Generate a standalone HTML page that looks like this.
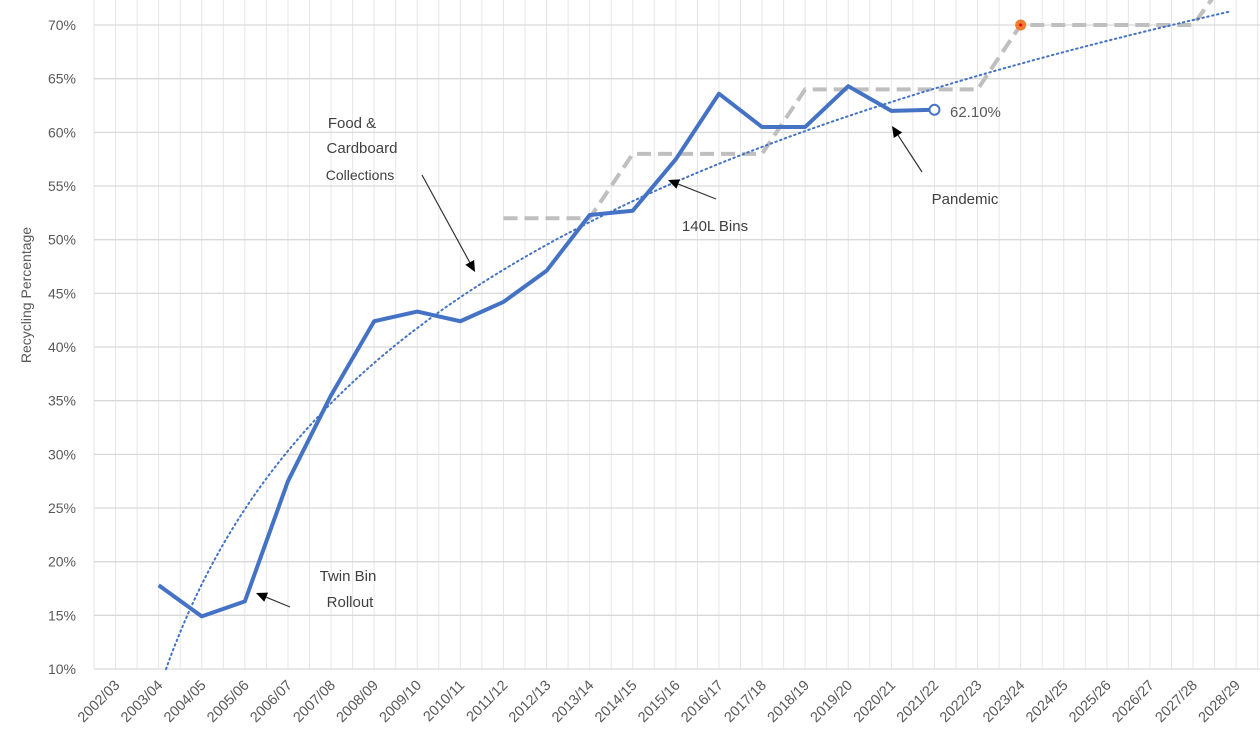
<!DOCTYPE html>
<html><head><meta charset="utf-8"><style>
html,body{margin:0;padding:0;background:#fff;}
svg{display:block;font-family:"Liberation Sans",sans-serif;}
</style></head><body>
<svg id="c" width="1260" height="753" viewBox="0 0 1260 753" xmlns="http://www.w3.org/2000/svg"></svg>
<script>
const s=document.getElementById('c');
const X0=94,W=43.1;
const cx=i=>X0+W*(i+0.5);
const Y=v=>669-(v-10)*10.733;
let h='';
for(let k=0;k<=54;k++){const x=X0+k*W/2;h+=`<line x1="${x}" y1="0" x2="${x}" y2="669" stroke="#e6e6e6" stroke-width="1"/>`;}
for(let v=10;v<=75;v+=5){const y=Y(v);h+=`<line x1="${X0}" y1="${y}" x2="1260" y2="${y}" stroke="#d9d9d9" stroke-width="1.3"/>`;
 if(v<=70)h+=`<text x="76" y="${y+5}" text-anchor="end" font-size="14" fill="#595959">${v}%</text>`;}
const cats=[];for(let i=0;i<27;i++){const a=2002+i;cats.push(a+'/'+String((a+1)%100).padStart(2,'0'));}
cats.forEach((c,i)=>{const x=cx(i)+5,y=686;h+=`<text x="${x}" y="${y}" transform="rotate(-45 ${x} ${y})" text-anchor="end" font-size="14.5" fill="#595959">${c}</text>`;});
h+=`<text x="31" y="295" transform="rotate(-90 31 295)" text-anchor="middle" font-size="14" fill="#595959">Recycling Percentage</text>`;
const t=[[9,52],[11,52],[12,58],[15,58],[16,64],[20,64],[21,70],[25,70],[26,75.5]];
h+=`<polyline fill="none" stroke="#bfbfbf" stroke-width="4" stroke-dasharray="14 7" points="${t.map(p=>cx(p[0])+','+Y(p[1])).join(' ')}"/>`;
let tp=[];for(let x=1.17;x<=25.9;x+=0.1){tp.push(cx(x)+','+Y(-8.87+24.35*Math.log(x+1)));}
h+=`<polyline fill="none" stroke="#4472c4" stroke-width="2" stroke-dasharray="1.5 3.5" stroke-linecap="round" points="${tp.join(' ')}"/>`;
const d=[17.8,14.9,16.3,27.5,35.5,42.4,43.3,42.4,44.2,47.1,52.3,52.7,57.5,63.6,60.5,60.5,64.3,62.0,62.1];
h+=`<polyline fill="none" stroke="#4472c4" stroke-width="4" stroke-linejoin="round" points="${d.map((v,i)=>cx(i+1)+','+Y(v)).join(' ')}"/>`;
h+=`<circle cx="${cx(19)}" cy="${Y(62.1)}" r="5" fill="#fff" stroke="#4472c4" stroke-width="2"/>`;
h+=`<circle cx="${cx(21)}" cy="${Y(70)}" r="5.5" fill="#ed7d31"/><circle cx="${cx(21)}" cy="${Y(70)}" r="1.5" fill="#e00"/>`;
h+=`<text x="950" y="117" font-size="15" fill="#595959">62.10%</text>`;
function arrow(x1,y1,x2,y2){const a=Math.atan2(y2-y1,x2-x1),L=11,w=5;
 const bx=x2-L*Math.cos(a),by=y2-L*Math.sin(a);
 return `<line x1="${x1}" y1="${y1}" x2="${bx}" y2="${by}" stroke="#333" stroke-width="1.2"/><polygon points="${x2},${y2} ${bx+w*Math.sin(a)},${by-w*Math.cos(a)} ${bx-w*Math.sin(a)},${by+w*Math.cos(a)}" fill="#000"/>`;}
h+=`<g font-size="15" fill="#404040" text-anchor="middle"><text x="352" y="128">Food &amp;</text><text x="362" y="153">Cardboard</text><text x="360" y="180" font-size="14">Collections</text>
<text x="715" y="231">140L Bins</text><text x="965" y="204">Pandemic</text><text x="348" y="581">Twin Bin</text><text x="350" y="607">Rollout</text></g>`;
h+=arrow(422,175,475,272)+arrow(716,199,668,180)+arrow(922,172,892,126)+arrow(290,607,256,593);
s.innerHTML=h;
</script>
</body></html>
